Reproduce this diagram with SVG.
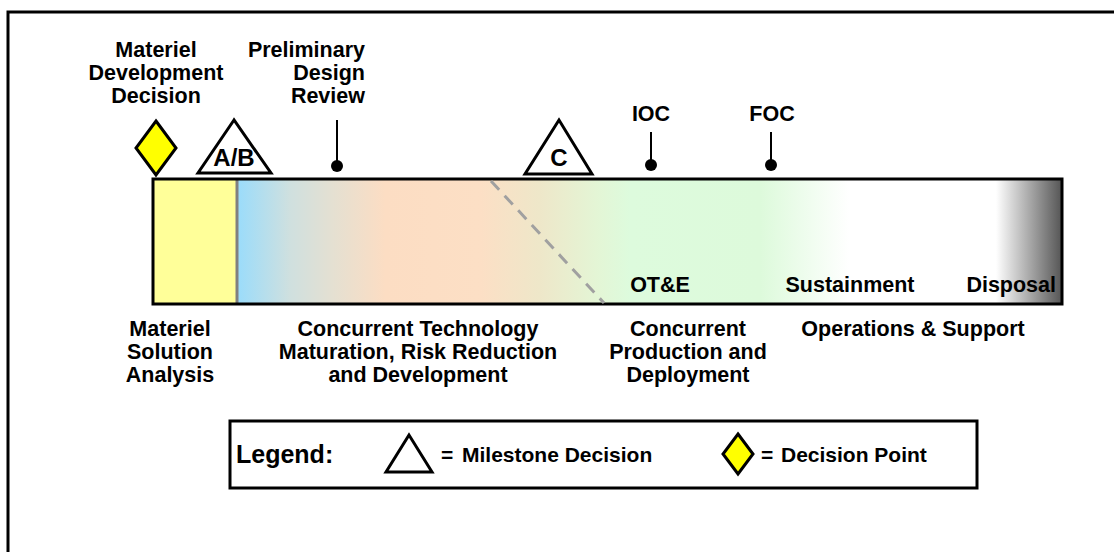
<svg xmlns="http://www.w3.org/2000/svg" width="1114" height="552" viewBox="0 0 1114 552">
<defs>
<style>
text{font-family:"Liberation Sans",Arial,sans-serif;font-weight:bold;fill:#000}
.lbl{font-size:21.5px}
.mid{text-anchor:middle}
.end{text-anchor:end}
.tri{fill:#fff;stroke:#000;stroke-width:3;stroke-linejoin:miter}
.dia{fill:#ffff00;stroke:#000;stroke-width:3}
.stem{stroke:#000;stroke-width:2}
.leg{font-size:21px}
</style>
<linearGradient id="phase" gradientUnits="userSpaceOnUse" x1="237" y1="0" x2="1062" y2="0">
<stop offset="0" stop-color="#9adcfb"/>
<stop offset="0.064" stop-color="#cfe0df"/>
<stop offset="0.115" stop-color="#e4e0d2"/>
<stop offset="0.18" stop-color="#fcddc3"/>
<stop offset="0.295" stop-color="#fcdfc5"/>
<stop offset="0.367" stop-color="#eee7c9"/>
<stop offset="0.44" stop-color="#e3f6d6"/>
<stop offset="0.476" stop-color="#ddfbdd"/>
<stop offset="0.634" stop-color="#ddfadb"/>
<stop offset="0.742" stop-color="#ffffff"/>
<stop offset="0.92" stop-color="#ffffff"/>
<stop offset="1" stop-color="#555555"/>
</linearGradient>
</defs>
<rect x="8" y="12" width="1200" height="600" fill="#fff" stroke="#000" stroke-width="3"/>

<g id="phase-bar">
<rect x="237" y="179" width="825" height="125" fill="url(#phase)"/>
<rect x="153" y="179" width="84" height="125" fill="#ffff99"/>
<line x1="237" y1="180" x2="237" y2="303" stroke="#808080" stroke-width="3"/>
<rect x="153" y="179" width="909" height="125" fill="none" stroke="#000" stroke-width="3"/>
<text class="lbl mid" x="660" y="292">OT&amp;E</text>
<text class="lbl mid" x="850" y="292">Sustainment</text>
<text class="lbl end" x="1056" y="292">Disposal</text>
</g>

<g id="connectors">
<line x1="491" y1="181" x2="604" y2="303" stroke="#a0a0a0" stroke-width="3" stroke-dasharray="12 8"/>
</g>

<g id="mdd">
<text class="lbl mid" x="156" y="57">Materiel</text>
<text class="lbl mid" x="156" y="80">Development</text>
<text class="lbl mid" x="156" y="103">Decision</text>
<polygon class="dia" points="156,121 176,148 156,175 136,148"/>
</g>

<g id="milestone-ab">
<polygon class="tri" points="234,120 198,173 271,173"/>
<text class="mid" x="234" y="166" font-size="24">A/B</text>
</g>

<g id="pdr">
<text class="lbl end" x="365" y="57">Preliminary</text>
<text class="lbl end" x="365" y="80">Design</text>
<text class="lbl end" x="365" y="103">Review</text>
<line class="stem" x1="337" y1="120" x2="337" y2="165"/>
<circle cx="337" cy="166" r="6"/>
</g>

<g id="milestone-c">
<polygon class="tri" points="559,120 525,174 592,174"/>
<text class="mid" x="559" y="166" font-size="24">C</text>
</g>

<g id="ioc">
<text class="lbl mid" x="651" y="121">IOC</text>
<line class="stem" x1="651" y1="132" x2="651" y2="164"/>
<circle cx="651" cy="165" r="6"/>
</g>

<g id="foc">
<text class="lbl mid" x="772" y="121">FOC</text>
<line class="stem" x1="771" y1="132" x2="771" y2="164"/>
<circle cx="771" cy="165" r="6"/>
</g>

<g id="msa">
<text class="lbl mid" x="170" y="336">Materiel</text>
<text class="lbl mid" x="170" y="359">Solution</text>
<text class="lbl mid" x="170" y="382">Analysis</text>
</g>

<g id="tmrr">
<text class="lbl mid" x="418" y="336">Concurrent Technology</text>
<text class="lbl mid" x="418" y="359">Maturation, Risk Reduction</text>
<text class="lbl mid" x="418" y="382">and Development</text>
</g>

<g id="pd">
<text class="lbl mid" x="688" y="336">Concurrent</text>
<text class="lbl mid" x="688" y="359">Production and</text>
<text class="lbl mid" x="688" y="382">Deployment</text>
</g>

<g id="os">
<text class="lbl mid" x="913" y="336">Operations &amp; Support</text>
</g>

<g id="legend">
<rect x="230" y="421" width="747" height="67" fill="#fff" stroke="#000" stroke-width="3"/>
<text x="236" y="463" font-size="25">Legend:</text>
<polygon class="tri" points="409,435 386,472 432,472" stroke-width="2.5"/>
<text class="leg" x="441" y="462">=</text>
<text class="leg" x="462" y="462">Milestone Decision</text>
<polygon class="dia" points="738,434 753,454 738,474 723,454" stroke-width="2.5"/>
<text class="leg" x="761" y="462">=</text>
<text class="leg" x="781" y="462">Decision Point</text>
</g>
</svg>
